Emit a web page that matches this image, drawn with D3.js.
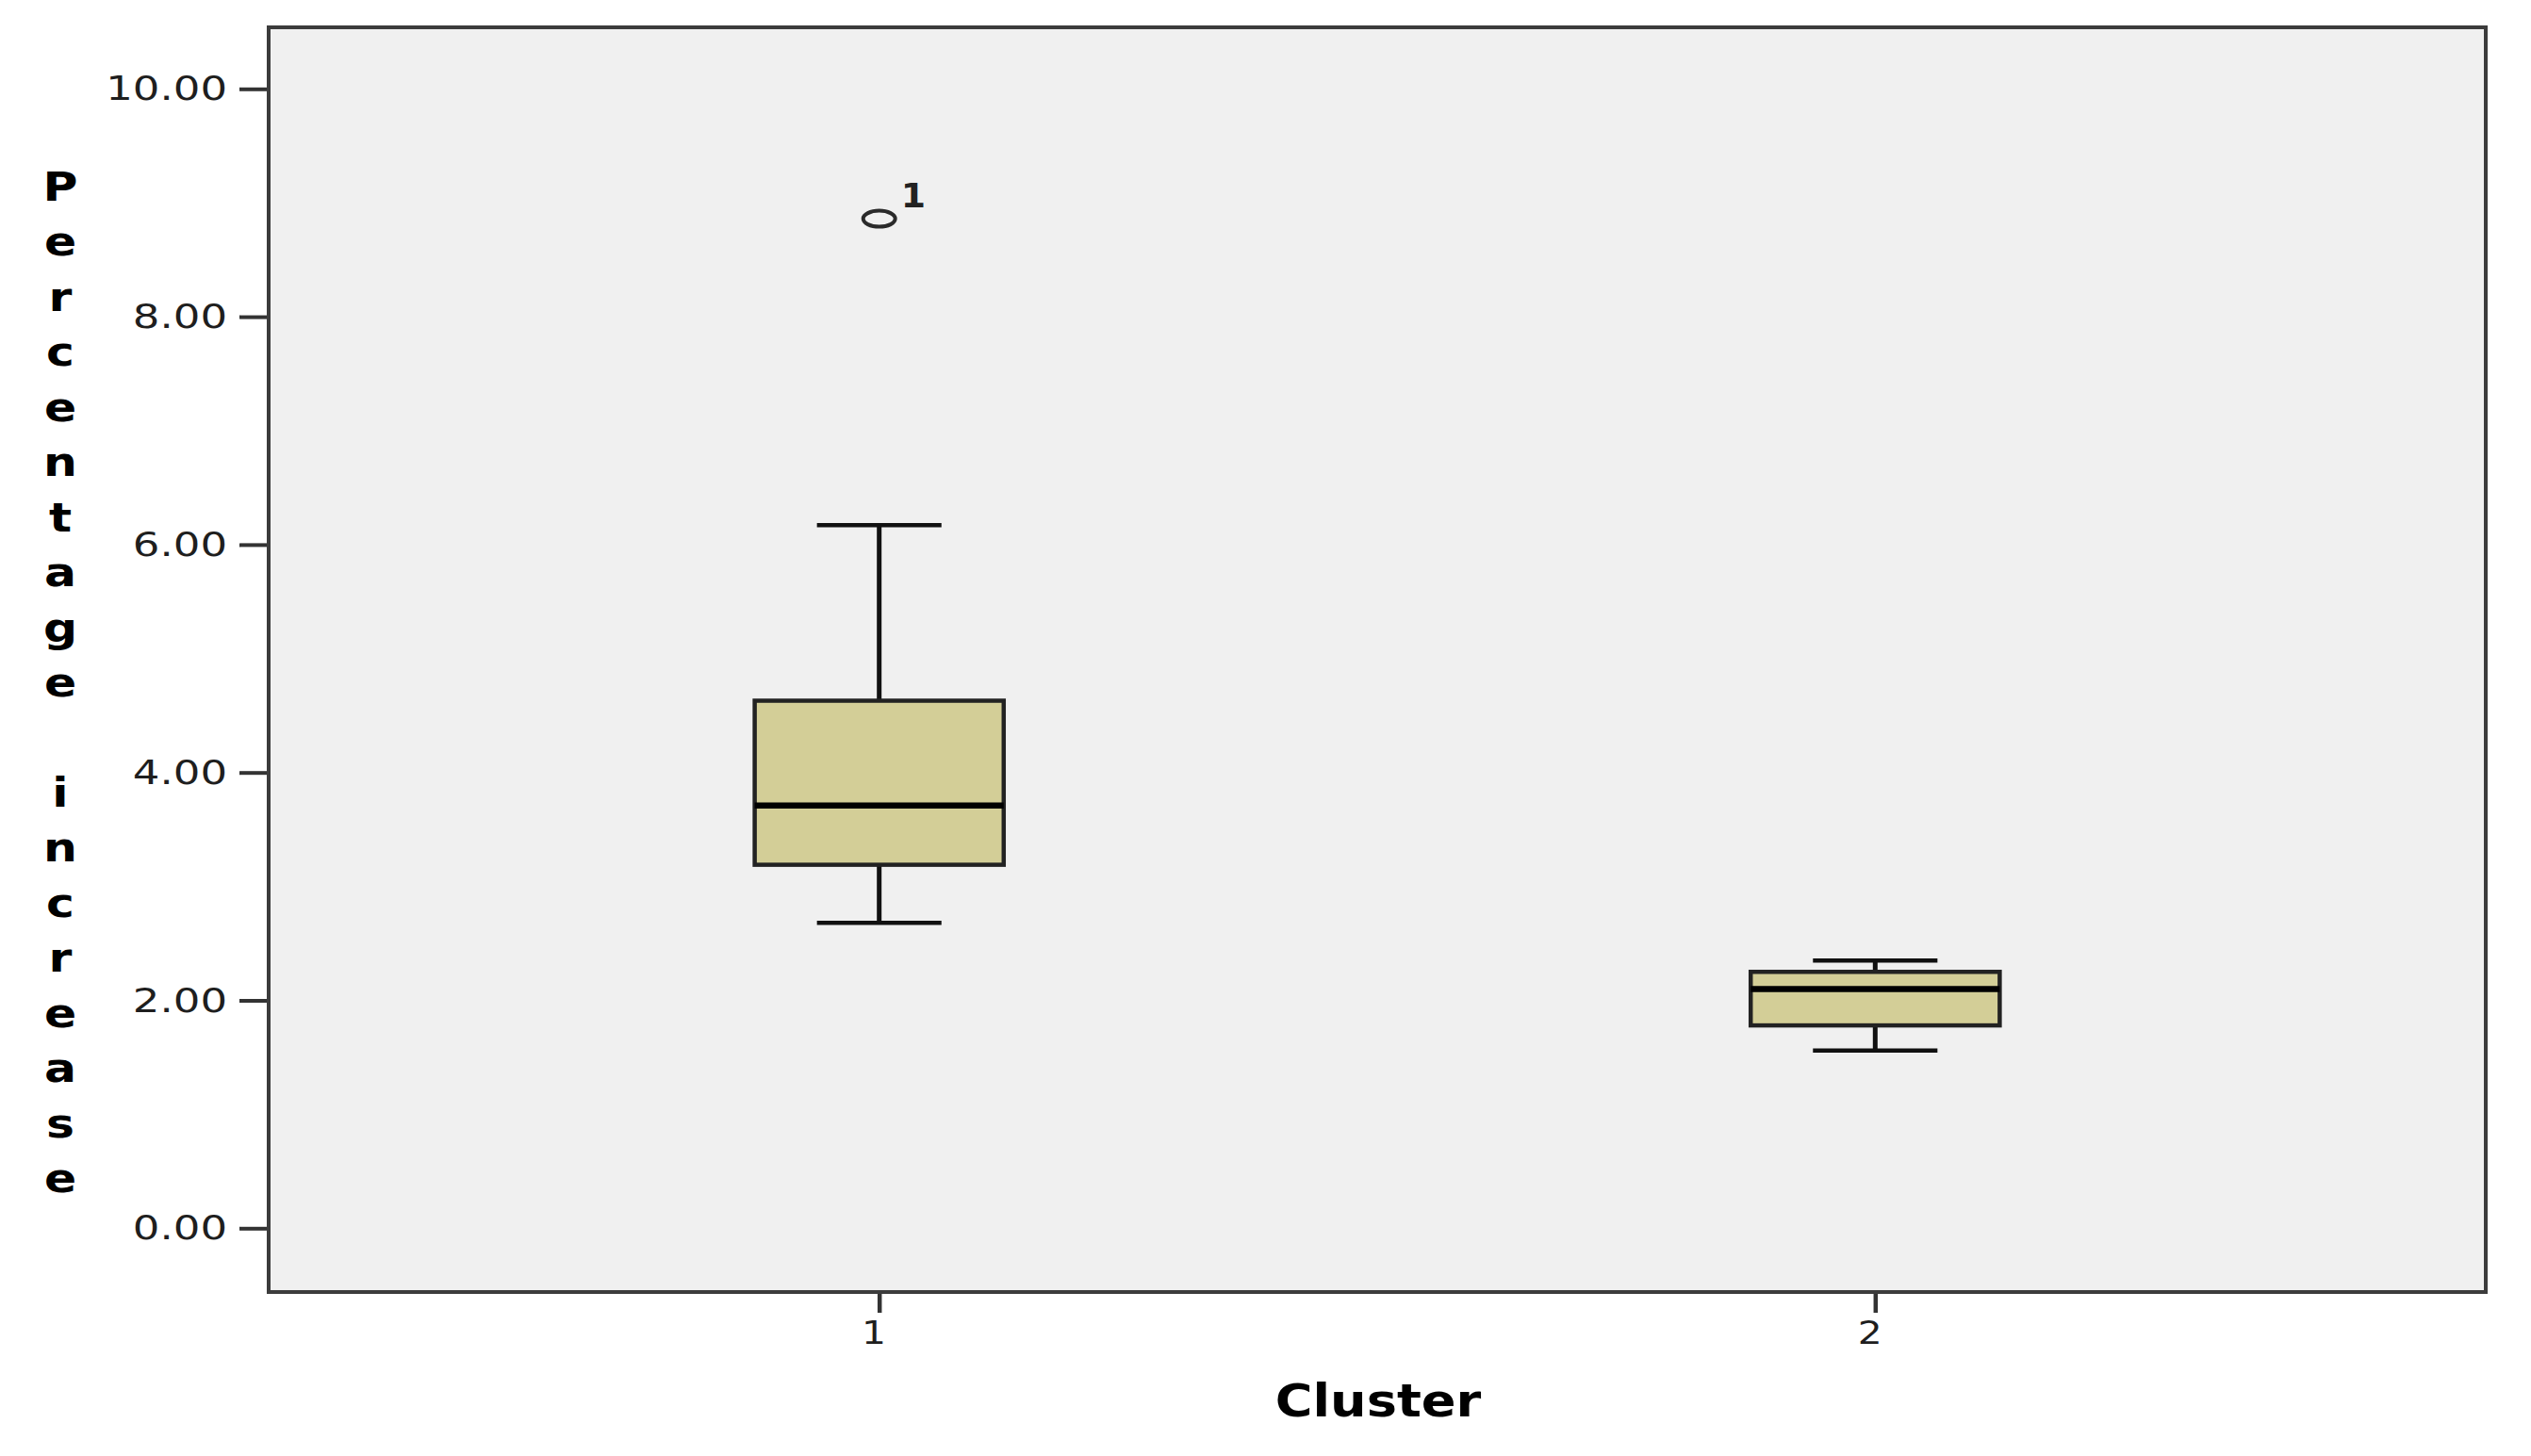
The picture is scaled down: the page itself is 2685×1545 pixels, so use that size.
<!DOCTYPE html>
<html>
<head>
<meta charset="utf-8">
<script src="https://cdn.jsdelivr.net/npm/d3@7"></script>
<style>
  body { margin: 0; background: #fff; }
  svg { display: block; }
</style>
</head>
<body>
<div id="chart"></div>
<script>
// Boxplot of percentage increase by cluster (SPSS style)

// data
var clusters = ["1", "2"];
var whiskerLow = [2.68, 1.56];
var q1 = [3.19, 1.78];
var median = [3.71, 2.10];
var q3 = [4.63, 2.25];
var whiskerHigh = [6.17, 2.35];

var outlierCluster = ["1"];
var outlierValue = [8.86];
var outlierLabel = ["1"];

var yTicks = [0, 2, 4, 6, 8, 10];
var yTitle = "Percentage increase";
var xTitle = "Cluster";

// layout
var W = 2685, H = 1545;
var frame = {left: 285, top: 29, right: 2637, bottom: 1371};

var svg = d3.select("#chart")
  .append("svg")
    .attr("width", W)
    .attr("height", H)
    .style("background", "#fff");

var x = d3.scalePoint()
  .domain(clusters)
  .range([frame.left, frame.right])
  .padding(0.613);

var y = d3.scaleLinear()
  .domain([-0.56, 10.54])
  .range([frame.bottom, frame.top]);

var step = x.step();
var boxW = step * 0.25;
var capW = boxW / 2;

// plot background
svg.append("rect")
  .attr("x", frame.left)
  .attr("y", frame.top)
  .attr("width", frame.right - frame.left)
  .attr("height", frame.bottom - frame.top)
  .style("fill", "#f0f0f0");

// stretch text a bit horizontally like the original
function stretch(sel, sx) {
  sel.each(function() {
    var t = d3.select(this);
    var tx = +t.attr("x") || 0;
    t.attr("x", tx / sx).attr("transform", "scale(" + sx + ",1)");
  });
}

// y axis
var yAxis = svg.append("g")
  .attr("transform", "translate(" + frame.left + ",0)")
  .call(d3.axisLeft(y).tickValues(yTicks).tickSize(31).tickPadding(13)
        .tickFormat(d3.format(".2f")));
yAxis.select(".domain").remove();
yAxis.selectAll("line").style("stroke", "#333").style("stroke-width", 4);
yAxis.selectAll("text")
  .style("font-family", "DejaVu Sans")
  .style("font-size", "36px")
  .style("fill", "#1e1e1e");
stretch(yAxis.selectAll("text"), 1.25);

// x axis
var xAxis = svg.append("g")
  .attr("transform", "translate(0," + frame.bottom + ")")
  .call(d3.axisBottom(x).tickSize(22).tickPadding(9));
xAxis.select(".domain").remove();
xAxis.selectAll("line").style("stroke", "#333").style("stroke-width", 4.5);
xAxis.selectAll("text")
  .attr("dx", "-0.15em")
  .style("font-family", "DejaVu Sans")
  .style("font-size", "34px")
  .style("fill", "#1e1e1e");
stretch(xAxis.selectAll("text"), 1.2);

// boxes
var boxes = clusters.map(function(c, i) {
  return {c: c, lo: whiskerLow[i], q1: q1[i], med: median[i], q3: q3[i], hi: whiskerHigh[i]};
});

var g = svg.selectAll(".box")
  .data(boxes)
  .enter()
  .append("g")
    .attr("class", "box");

// whisker stems
g.append("line")
  .attr("x1", function(d) { return x(d.c); })
  .attr("x2", function(d) { return x(d.c); })
  .attr("y1", function(d) { return y(d.hi); })
  .attr("y2", function(d) { return y(d.lo); })
  .style("stroke", "#111")
  .style("stroke-width", 5);

// caps
g.selectAll(".cap")
  .data(function(d) { return [{c: d.c, v: d.hi}, {c: d.c, v: d.lo}]; })
  .enter()
  .append("line")
    .attr("x1", function(d) { return x(d.c) - capW / 2; })
    .attr("x2", function(d) { return x(d.c) + capW / 2; })
    .attr("y1", function(d) { return y(d.v); })
    .attr("y2", function(d) { return y(d.v); })
    .style("stroke", "#111")
    .style("stroke-width", 4.5);

g.append("rect")
  .attr("x", function(d) { return x(d.c) - boxW / 2; })
  .attr("y", function(d) { return y(d.q3); })
  .attr("width", boxW)
  .attr("height", function(d) { return y(d.q1) - y(d.q3); })
  .style("fill", "#d3ce97")
  .style("stroke", "#222")
  .style("stroke-width", 4.5);

g.append("line")
  .attr("x1", function(d) { return x(d.c) - boxW / 2; })
  .attr("x2", function(d) { return x(d.c) + boxW / 2; })
  .attr("y1", function(d) { return y(d.med); })
  .attr("y2", function(d) { return y(d.med); })
  .style("stroke", "#000")
  .style("stroke-width", 6.5);

// outliers
outlierValue.forEach(function(v, i) {
  var cx = x(outlierCluster[i]), cy = y(v);
  svg.append("ellipse")
    .attr("cx", cx)
    .attr("cy", cy)
    .attr("rx", 17)
    .attr("ry", 8.5)
    .style("fill", "none")
    .style("stroke", "#2a2a2a")
    .style("stroke-width", 4);
  var t = svg.append("text")
    .attr("x", cx + 23)
    .attr("y", cy - 12)
    .style("font-family", "DejaVu Sans")
    .style("font-size", "36px")
    .style("font-weight", "bold")
    .style("fill", "#222")
    .text(outlierLabel[i]);
  stretch(t, 1.05);
});

// frame
svg.append("rect")
  .attr("x", frame.left)
  .attr("y", frame.top)
  .attr("width", frame.right - frame.left)
  .attr("height", frame.bottom - frame.top)
  .style("fill", "none")
  .style("stroke", "#3c3c3c")
  .style("stroke-width", 4);

// y title, one letter per line
var letters = yTitle.split("");
var ly = d3.scaleLinear().domain([0, letters.length - 1]).range([213, 1265]);
var yt = svg.append("g");
letters.forEach(function(ch, i) {
  var t = yt.append("text")
    .attr("x", 64)
    .attr("y", ly(i))
    .attr("text-anchor", "middle")
    .style("font-family", "DejaVu Sans")
    .style("font-weight", "bold")
    .style("font-size", "42px")
    .style("fill", "#000")
    .text(ch);
  stretch(t, 1.2);
});

// x title
var xt = svg.append("text")
  .attr("x", 1462)
  .attr("y", 1503)
  .attr("text-anchor", "middle")
  .style("font-family", "DejaVu Sans")
  .style("font-weight", "bold")
  .style("font-size", "48px")
  .style("fill", "#000")
  .text(xTitle);
stretch(xt, 1.13);
</script>
</body>
</html>
